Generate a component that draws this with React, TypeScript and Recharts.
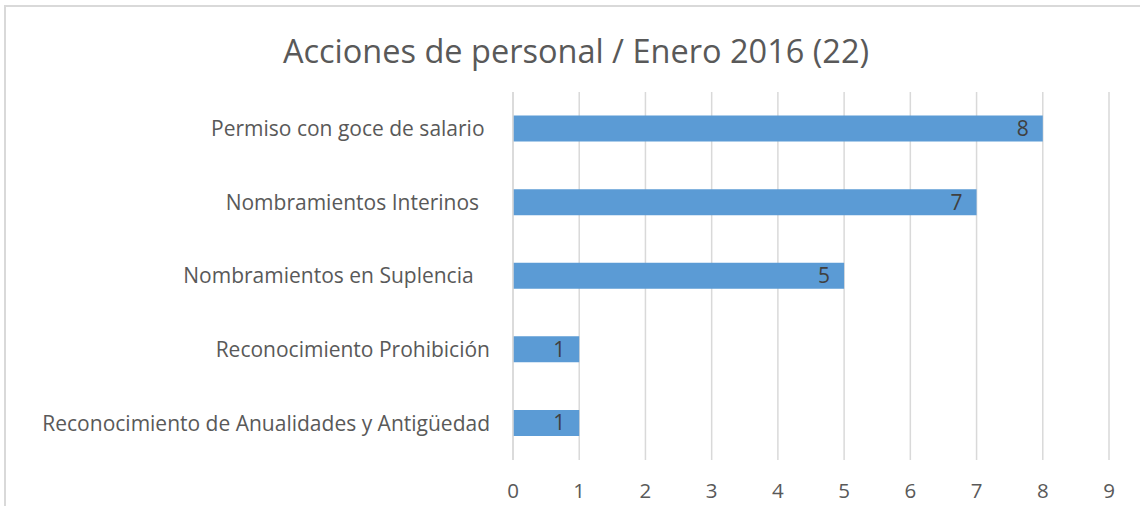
import { BarChart, Bar, XAxis, YAxis, CartesianGrid, LabelList } from "recharts"

const categorias = [
  "Permiso con goce de salario ",
  "Nombramientos Interinos  ",
  "Nombramientos en Suplencia   ",
  "Reconocimiento Prohibición",
  "Reconocimiento de Anualidades y Antigüedad",
]
const cantidades = [8, 7, 5, 1, 1]
const ticksX = [0, 1, 2, 3, 4, 5, 6, 7, 8, 9]

const data = categorias.map((nombre, i) => ({ nombre, cantidad: cantidades[i] }))

const FONT = "'Open Sans', sans-serif"
const GRIS = "#595959"

function CategoryTick(props: any) {
  const { x, y, payload } = props
  return (
    <text
      x={x}
      y={y}
      dy="0.35em"
      textAnchor="end"
      fill={GRIS}
      fontSize={21}
      fontFamily={FONT}
      style={{ whiteSpace: "pre" }}
    >
      {payload.value}
    </text>
  )
}

export default function App() {
  return (
    <div style={{ position: "absolute", left: 0, top: 0, width: 1140, height: 506, background: "#fff", overflow: "hidden" }}>
      {/* chart frame, cropped like the original */}
      <div
        style={{
          position: "absolute",
          left: 4,
          top: 5,
          width: 1200,
          height: 600,
          borderTop: "2px solid #d9d9d9",
          borderLeft: "2px solid #d9d9d9",
        }}
      />
      <div
        style={{
          position: "absolute",
          left: 0,
          width: 1152,
          top: 28,
          textAlign: "center",
          fontFamily: FONT,
          fontSize: 32.5,
          color: GRIS,
          lineHeight: "46px",
        }}
      >
        Acciones de personal / Enero 2016 (22)
      </div>
      <div style={{ position: "absolute", left: 0, top: 0 }}>
        <BarChart
          width={1140}
          height={506}
          data={data}
          layout="vertical"
          margin={{ top: 92, right: 31, bottom: 0, left: 0 }}
          barCategoryGap="32%"
        >
          <CartesianGrid horizontal={false} stroke="#d9d9d9" strokeWidth={1.5} />
          <XAxis
            type="number"
            domain={[0, 9]}
            ticks={ticksX}
            interval={0}
            axisLine={false}
            tickLine={false}
            tickMargin={17}
            height={46}
            tick={{ fill: GRIS, fontSize: 20.5, fontFamily: FONT }}
          />
          <YAxis
            type="category"
            dataKey="nombre"
            width={513}
            axisLine={{ stroke: "#d9d9d9", strokeWidth: 1.5 }}
            tickLine={false}
            tickMargin={17}
            interval={0}
            tick={<CategoryTick />}
          />
          <Bar dataKey="cantidad" fill="#5b9bd5" isAnimationActive={false}>
            <LabelList
              dataKey="cantidad"
              position="insideRight"
              offset={14}
              fill="#404040"
              fontSize={21}
              fontFamily={FONT}
            />
          </Bar>
        </BarChart>
      </div>
    </div>
  )
}
